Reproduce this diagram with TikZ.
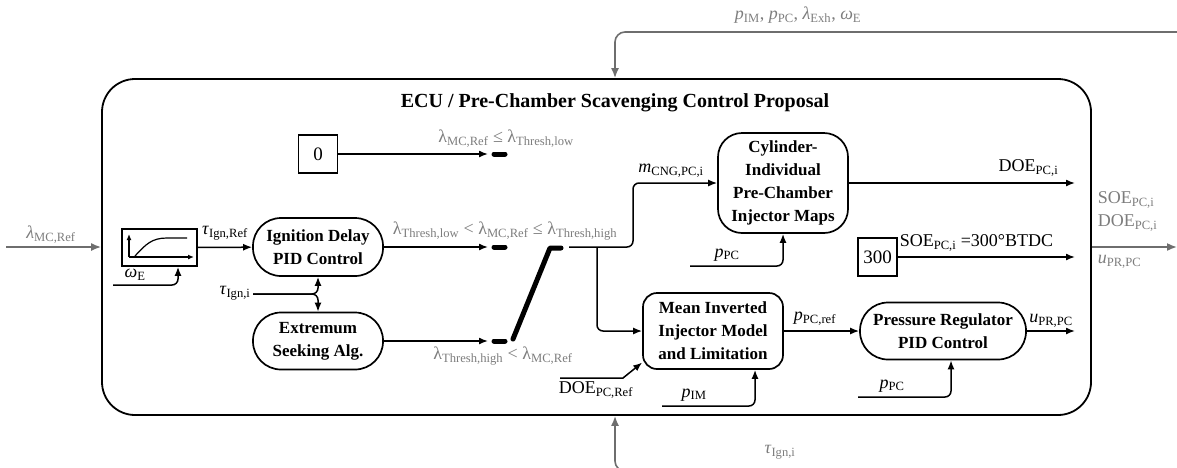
\documentclass[tikz,border=0pt]{standalone}
\usepackage{fontspec}
\setmainfont{Liberation Serif}
\usetikzlibrary{arrows.meta}
\definecolor{sgnGray}{RGB}{110,110,110}
\definecolor{lblGray}{RGB}{125,125,125}

\begin{document}
\begin{tikzpicture}[x=1pt,y=-1pt,
    >={Latex[length=9pt,width=7pt]},
    line width=1.5pt,
    ctrl/.style={draw,line width=1.7pt,rounded corners=28pt,align=center,
      inner sep=0pt,font=\fontsize{17}{23}\selectfont\bfseries},
    mapbox/.style={ctrl,rounded corners=24pt},
    modelbox/.style={ctrl,rounded corners=14pt},
    constbox/.style={draw,line width=1.5pt,inner sep=0pt,minimum width=39pt,
      minimum height=38pt,font=\fontsize{19}{22}\selectfont},
    lbl/.style={inner sep=1pt,font=\fontsize{18}{20}\selectfont},
    glbl/.style={lbl,text=lblGray},
    sgn/.style={->,draw=sgnGray,line width=1.6pt,
      >={Latex[length=10pt,width=8pt]},rounded corners=10pt},
    swdash/.style={line width=5pt,line cap=round,line join=round}]
  \useasboundingbox (0,0) rectangle (1177,467);
  \clip (0,0) rectangle (1177,467);

  \node[draw,line width=1.8pt,rounded corners=33pt,minimum width=989pt,
    minimum height=336pt] (ecu) at (596.5,247) {};
  \node[font=\fontsize{20}{24}\selectfont\bfseries] (title) at (615,103)
    {ECU / Pre-Chamber Scavenging Control Proposal};

  % blocks
  \node[draw,line width=1.7pt,minimum width=75pt,minimum height=37pt] (map) at (159.5,247.5) {};
  \node[ctrl,minimum width=130pt,minimum height=58pt] (ign) at (318,247) {Ignition Delay\\PID Control};
  \node[ctrl,minimum width=130pt,minimum height=57pt] (esa) at (318,341) {Extremum\\Seeking Alg.};
  \node[constbox] (zero) at (318,154) {0};
  \node[mapbox,minimum width=130pt,minimum height=100pt] (cyl) at (783,183)
    {Cylinder-\\Individual\\Pre-Chamber\\Injector Maps};
  \node[modelbox,minimum width=140pt,minimum height=76pt] (mim) at (713,331)
    {Mean Inverted\\Injector Model\\and Limitation};
  \node[ctrl,minimum width=166pt,minimum height=57pt] (prc) at (943,331)
    {Pressure Regulator\\PID Control};
  \node[constbox] (c300) at (877.5,257) {300};

  % characteristic curve icon
  \draw[->,line width=1.2pt,>={Latex[length=6pt,width=5pt]}] (129,257) -- (129,234);
  \draw[->,line width=1.2pt,>={Latex[length=6pt,width=5pt]}] (129,257) -- (194,257);
  \draw[line width=1.2pt] (135,256) .. controls (146,244) and (152,238) .. (167,238) -- (187,238);

  % switch
  \coordinate (lowin) at (488,154);
  \coordinate (midin) at (488,247);
  \coordinate (highin) at (488,341);
  \coordinate (lowa) at (494,154);
  \coordinate (lowb) at (505,154);
  \coordinate (mida) at (494,247);
  \coordinate (midb) at (505,247);
  \coordinate (higha) at (494,341);
  \coordinate (highb) at (505,341);
  \coordinate (bladea) at (513,339);
  \coordinate (bladeb) at (550,248);
  \coordinate (bladec) at (561,248);
  \coordinate (swout) at (569,247);
  \coordinate (br) at (597,247);
  \draw[swdash] (lowa) -- (lowb);
  \draw[swdash] (mida) -- (midb);
  \draw[swdash] (higha) -- (highb);
  \draw[swdash] (bladea) -- (bladeb) -- (bladec);

  \draw[->] (zero) -- (lowin);
  \draw[->] (ign) -- (midin);
  \draw[->] (esa) -- (highin);
  \draw[->] (map) -- (ign);
  \draw[->,rounded corners=6pt] (swout) -- ++(64,0) |- (cyl.west);
  \draw[->,rounded corners=6pt] (br) |- (mim.west);
  \draw[->] (mim) -- (prc);

  % inputs
  \coordinate (omin) at (113,285);
  \coordinate (tauin) at (253,294);
  \coordinate (pcylin) at (690,266);
  \coordinate (doein) at (560,378);
  \coordinate (doek) at (623,378);
  \coordinate (pimin) at (662,406);
  \coordinate (pprcin) at (858,397);
  \draw[->,rounded corners=6pt] (omin) -| ([xshift=18.5pt]map.south);
  \draw[->,rounded corners=6pt] (tauin) -| (ign.south);
  \draw[->,rounded corners=6pt] (tauin) -| (esa.north);
  \draw[->,rounded corners=6pt] (pcylin) -| (cyl.south);
  \draw[->] (doein) -- (doek) -- (mim.204);
  \draw[->,rounded corners=6pt] (pimin) -| ([xshift=42pt]mim.south);
  \draw[->,rounded corners=6pt] (pprcin) -| ([xshift=8pt]prc.south);

  % outputs
  \coordinate (doeout) at (1075,183);
  \coordinate (soeout) at (1075,257);
  \coordinate (uout) at (1075,331);
  \draw[->] (cyl.east |- doeout) -- (doeout);
  \draw[->] (c300) -- (soeout);
  \draw[->] (prc.east |- uout) -- (uout);

  % signals across the ECU border
  \coordinate (lamin) at (6,247);
  \coordinate (sigout) at (1177,247);
  \coordinate (topin) at (1185,32);
  \coordinate (botin) at (1185,471);
  \draw[sgn] (lamin) -- (ecu.west);
  \draw[sgn] (ecu.east) -- (sigout);
  \draw[sgn] (topin) -| ([xshift=18.5pt]ecu.north);
  \draw[sgn] (botin) -| ([xshift=18.5pt]ecu.south);

  % labels
  \node[glbl] (llam) at (51,235) {\textit{λ}\textsubscript{MC,Ref}};
  \node[glbl] (ltop) at (798,15) {\textit{p}\textsubscript{IM}, \textit{p}\textsubscript{PC}, \textit{λ}\textsubscript{Exh}, \textit{ω}\textsubscript{E}};
  \node[glbl] (lbot) at (780,452) {\textit{τ}\textsubscript{Ign,i}};
  \node[glbl,anchor=west] (lsoe) at (1096,200) {SOE\textsubscript{PC,i}};
  \node[glbl,anchor=west] (ldoe) at (1096,223) {DOE\textsubscript{PC,i}};
  \node[glbl,anchor=west] (lu) at (1096,262) {\textit{u}\textsubscript{PR,PC}};
  \node[glbl] (llow) at (506,139) {λ\textsubscript{MC,Ref} ≤ λ\textsubscript{Thresh,low}};
  \node[glbl] (lmid) at (505,231) {λ\textsubscript{Thresh,low} < λ\textsubscript{MC,Ref} ≤ λ\textsubscript{Thresh,high}};
  \node[glbl] (lhigh) at (503,356) {λ\textsubscript{Thresh,high} < λ\textsubscript{MC,Ref}};
  \node[lbl] (ltauref) at (225,233) {\textit{τ}\textsubscript{Ign,Ref}};
  \node[lbl] (lom) at (135,275) {\textit{ω}\textsubscript{E}};
  \node[lbl] (ltau) at (235,293) {\textit{τ}\textsubscript{Ign,i}};
  \node[lbl] (lm) at (671,171) {\textit{m}\textsubscript{CNG,PC,i}};
  \node[lbl] (lpcyl) at (727,255) {\textit{p}\textsubscript{PC}};
  \node[lbl,anchor=east] (ldoeo) at (1060,168) {DOE\textsubscript{PC,i}};
  \node[lbl,anchor=west] (lsoeo) at (898,243) {SOE\textsubscript{PC,i} =300°BTDC};
  \node[lbl] (lpref) at (815,319) {\textit{p}\textsubscript{PC,ref}};
  \node[lbl] (lupr) at (1051,321) {\textit{u}\textsubscript{PR,PC}};
  \node[lbl,anchor=west] (ldoeref) at (557,390) {DOE\textsubscript{PC,Ref}};
  \node[lbl] (lpim) at (694,395) {\textit{p}\textsubscript{IM}};
  \node[lbl] (lpprc) at (892,386) {\textit{p}\textsubscript{PC}};
\end{tikzpicture}
\end{document}
